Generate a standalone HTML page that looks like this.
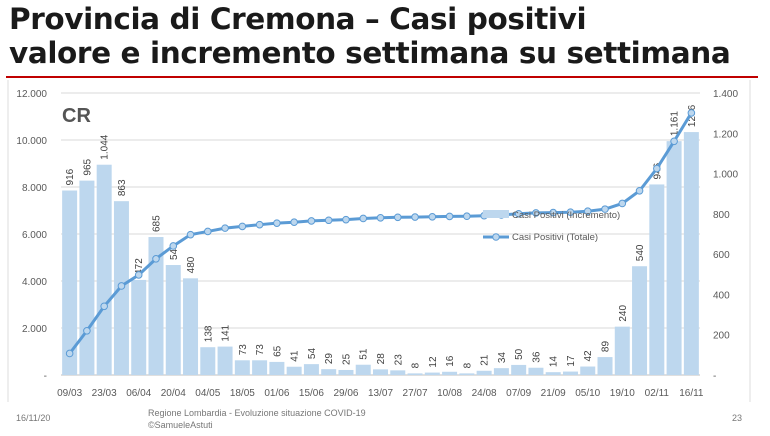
<!DOCTYPE html>
<html><head><meta charset="utf-8"><style>
body{margin:0;width:770px;height:436px;background:#fff;overflow:hidden;font-family:"Liberation Sans",sans-serif}
.t{position:absolute;left:9px;font-family:"DejaVu Sans","Liberation Sans",sans-serif;font-weight:bold;font-size:29.5px;line-height:34px;color:#1a1a1a;letter-spacing:-0.4px;white-space:nowrap}
</style></head><body>
<div class="t" style="top:2px">Provincia di Cremona – Casi positivi</div>
<div class="t" style="top:36px">valore e incremento settimana su settimana</div>
<div style="position:absolute;left:6px;top:76px;width:752px;height:2px;background:#c00000"></div>
<svg id="s" width="770" height="436" style="position:absolute;left:0;top:0" font-family="Liberation Sans, sans-serif">
<line x1="8" y1="80" x2="8" y2="402" stroke="#ddd"/>
<line x1="750" y1="80" x2="750" y2="402" stroke="#ddd"/>
<text x="62" y="122" font-size="20" font-weight="bold" fill="#555">CR</text>
<text x="16" y="421" font-size="9" fill="#777">16/11/20</text>
<text x="148" y="416" font-size="9" fill="#777">Regione Lombardia - Evoluzione situazione COVID-19</text>
<text x="148" y="428" font-size="9" fill="#777">©SamueleAstuti</text>
<text x="732" y="421" font-size="9" fill="#777">23</text>
</svg>
<script>
var s=document.getElementById('s'),ns='http://www.w3.org/2000/svg';
function el(t,a,txt){var e=document.createElementNS(ns,t);for(var k in a)e.setAttribute(k,a[k]);if(txt!=null)e.textContent=txt;s.appendChild(e);return e;}
var T=93,B=375,L=61,R=700,H=B-T;
var v=[916,965,1044,863,472,685,546,480,138,141,73,73,65,41,54,29,25,51,28,23,8,12,16,8,21,34,50,36,14,17,42,89,240,540,946,1161,1206];
var lab=["916","965","1.044","863","472","685","546","480","138","141","73","73","65","41","54","29","25","51","28","23","8","12","16","8","21","34","50","36","14","17","42","89","240","540","946","1.161","1206"];
var xl=["09/03","23/03","06/04","20/04","04/05","18/05","01/06","15/06","29/06","13/07","27/07","10/08","24/08","07/09","21/09","05/10","19/10","02/11","16/11"];
var ll=["-","2.000","4.000","6.000","8.000","10.000","12.000"],rl=["-","200","400","600","800","1.000","1.200","1.400"];
for(var i=1;i<=6;i++){var y=B-i*H/6;el('line',{x1:L,x2:R,y1:y,y2:y,stroke:'#d9d9d9'});}
for(var i=0;i<=6;i++)el('text',{x:47,y:B-i*H/6+4,'font-size':10,fill:'#595959','text-anchor':'end'},ll[i]);
for(var i=0;i<=7;i++)el('text',{x:713,y:B-i*H/7+4,'font-size':10,fill:'#595959'},rl[i]);
el('line',{x1:L,x2:R,y1:B,y2:B,stroke:'#bfbfbf'});
var w=(R-L)/v.length,cum=0,pts=[];
for(var i=0;i<v.length;i++){var cx=L+w*(i+.5),h=v[i]/1400*H;
el('rect',{x:cx-7.5,y:B-h,width:15,height:h,fill:'#bdd7ee'});
cum+=v[i];pts.push([cx,B-cum/12000*H]);
el('text',{transform:'translate('+(cx+3.5)+','+(B-h-5)+') rotate(-90)','font-size':10,fill:'#404040'},lab[i]);
}
for(var i=0;i<19;i++)el('text',{x:L+w*(2*i+.5),y:396,'font-size':10,fill:'#595959','text-anchor':'middle'},xl[i]);
el('polyline',{points:pts.map(function(p){return p.join(',')}).join(' '),fill:'none',stroke:'#5b9bd5','stroke-width':3});
pts.forEach(function(p){el('circle',{cx:p[0],cy:p[1],r:3.3,fill:'#bdd7ee',stroke:'#5b9bd5','stroke-width':1});});
el('rect',{x:483,y:210,width:26,height:8,fill:'#bdd7ee'});
el('text',{x:512,y:218,'font-size':9.5,fill:'#595959'},'Casi Positivi (Incremento)');
el('line',{x1:483,x2:509,y1:237,y2:237,stroke:'#5b9bd5','stroke-width':3});
el('circle',{cx:496,cy:237,r:3.3,fill:'#bdd7ee',stroke:'#5b9bd5'});
el('text',{x:512,y:240,'font-size':9.5,fill:'#595959'},'Casi Positivi (Totale)');
</script>
</body></html>
